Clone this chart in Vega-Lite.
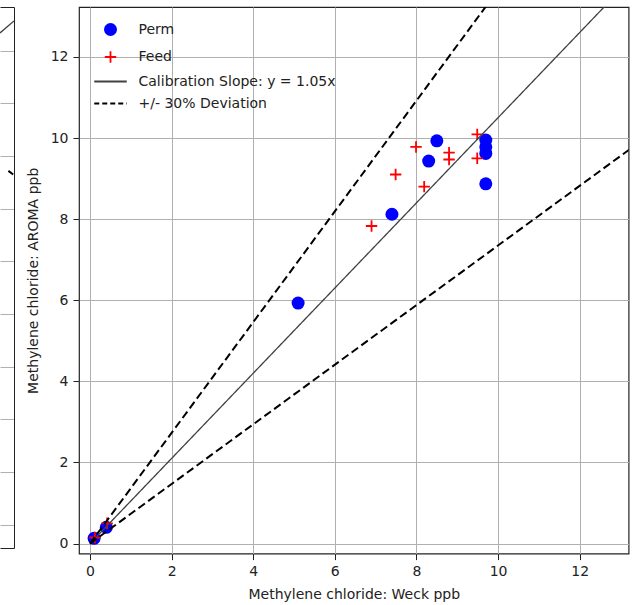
{
  "$schema": "https://vega.github.io/schema/vega-lite/v6.json",
  "autosize": {"type": "pad"},
  "padding": {"left": 0, "top": 6, "right": 0, "bottom": 0},
  "background": "white",
  "spacing": 11,
  "resolve": {"scale": {"color": "independent", "fill": "independent", "stroke": "independent", "shape": "independent", "size": "independent", "strokeDash": "independent"}, "legend": {"fill": "independent", "stroke": "independent", "shape": "independent", "size": "independent", "strokeDash": "independent"}},
  "config": {
    "view": {"stroke": null},
    "font": "DejaVu Sans",
    "axis": {
      "labelFont": "DejaVu Sans",
      "labelFontSize": 14,
      "labelColor": "#222",
      "titleFont": "DejaVu Sans",
      "titleFontSize": 14,
      "titleFontWeight": "normal",
      "titleColor": "#222",
      "gridColor": "#b0b0b0",
      "gridWidth": 1,
      "gridOpacity": 1,
      "tickColor": "#222",
      "tickSize": 6,
      "tickWidth": 1,
      "domainColor": "#222"
    },
    "legend": {
      "title": null,
      "orient": "none",
      "legendX": 24,
      "legendY": 15,
      "padding": 0,
      "labelFont": "DejaVu Sans",
      "labelFontSize": 14,
      "labelColor": "#222",
      "labelLimit": 400,
      "labelOffset": 20.5,
      "rowPadding": 7,
      "symbolStrokeWidth": 1.8,
      "symbolOpacity": 1
    }
  },
  "datasets": {
    "leftSolid": [
      {"x": 0, "y": 9.337},
      {"x": 1, "y": 9.564}
    ],
    "leftDashed": [
      {"x": 0.6, "y": 6.72},
      {"x": 1, "y": 6.64}
    ],
    "points": [
      {"series": "Perm", "weck": 0.1, "aroma": 0.13},
      {"series": "Perm", "weck": 0.4, "aroma": 0.4},
      {"series": "Perm", "weck": 5.1, "aroma": 5.93},
      {"series": "Perm", "weck": 7.4, "aroma": 8.12},
      {"series": "Perm", "weck": 8.3, "aroma": 9.43},
      {"series": "Perm", "weck": 8.5, "aroma": 9.93},
      {"series": "Perm", "weck": 9.7, "aroma": 9.95},
      {"series": "Perm", "weck": 9.7, "aroma": 9.78},
      {"series": "Perm", "weck": 9.7, "aroma": 9.62},
      {"series": "Perm", "weck": 9.7, "aroma": 8.87},
      {"series": "Feed", "weck": 0.12, "aroma": 0.15},
      {"series": "Feed", "weck": 0.42, "aroma": 0.5},
      {"series": "Feed", "weck": 6.9, "aroma": 7.83},
      {"series": "Feed", "weck": 7.49, "aroma": 9.1},
      {"series": "Feed", "weck": 7.99, "aroma": 9.78},
      {"series": "Feed", "weck": 8.19, "aroma": 8.8},
      {"series": "Feed", "weck": 8.8, "aroma": 9.64},
      {"series": "Feed", "weck": 8.8, "aroma": 9.47},
      {"series": "Feed", "weck": 9.49, "aroma": 10.09},
      {"series": "Feed", "weck": 9.49, "aroma": 9.5}
    ],
    "calib": [
      {"series": "Calibration Slope: y = 1.05x", "weck": 0, "aroma": 0},
      {"series": "Calibration Slope: y = 1.05x", "weck": 13.5, "aroma": 14.175}
    ],
    "dev": [
      {"series": "+/- 30% Deviation", "line": "upper", "weck": 0, "aroma": 0},
      {"series": "+/- 30% Deviation", "line": "upper", "weck": 10, "aroma": 13.65},
      {"series": "+/- 30% Deviation", "line": "lower", "weck": 0, "aroma": 0},
      {"series": "+/- 30% Deviation", "line": "lower", "weck": 13.5, "aroma": 9.9225}
    ]
  },
  "hconcat": [
    {
      "width": 14,
      "height": 541,
      "layer": [
        {
          "data": {"name": "leftSolid"},
          "mark": {"type": "line", "clip": true, "color": "#404040", "strokeWidth": 1.3},
          "encoding": {
            "x": {"field": "x", "type": "quantitative",
              "scale": {"domain": [0, 1], "nice": false, "zero": false},
              "axis": {"orient": "bottom", "labels": false, "ticks": false, "grid": false, "title": null, "domain": true}},
            "y": {"field": "y", "type": "quantitative",
              "scale": {"domain": [-0.44, 9.83], "nice": false, "zero": false},
              "axis": {"orient": "right", "labels": false, "ticks": false, "grid": true, "values": [0, 1, 2, 3, 4, 5, 6, 7, 8, 9], "title": null, "domain": true}}
          }
        },
        {
          "data": {"name": "leftDashed"},
          "mark": {"type": "line", "clip": true, "color": "black", "strokeWidth": 2, "strokeDash": [6, 4]},
          "encoding": {
            "x": {"field": "x", "type": "quantitative",
              "axis": {"orient": "top", "labels": false, "ticks": false, "grid": false, "title": null, "domain": true}},
            "y": {"field": "y", "type": "quantitative",
              "axis": {"orient": "right", "labels": false, "ticks": false, "grid": true, "values": [0, 1, 2, 3, 4, 5, 6, 7, 8, 9], "title": null, "domain": true}}
          }
        }
      ]
    },
    {
      "width": 549.6,
      "height": 546.6,
      "view": {"stroke": "#222", "strokeWidth": 1.2},
      "layer": [
        {
          "data": {"name": "points"},
          "mark": {"type": "point", "opacity": 1, "strokeWidth": 1.8},
          "encoding": {
            "x": {"field": "weck", "type": "quantitative",
              "scale": {"domain": [-0.27, 13.2], "nice": false, "zero": false},
              "axis": {"values": [0, 2, 4, 6, 8, 10, 12], "title": "Methylene chloride: Weck ppb", "grid": true, "domain": false, "labelPadding": 5, "titlePadding": 9}},
            "y": {"field": "aroma", "type": "quantitative",
              "scale": {"domain": [-0.247, 13.23], "nice": false, "zero": false},
              "axis": {"values": [0, 2, 4, 6, 8, 10, 12], "title": "Methylene chloride: AROMA ppb", "grid": true, "domain": false, "labelPadding": 5, "titlePadding": 10}},
            "shape": {"field": "series", "type": "nominal",
              "scale": {"domain": ["Perm", "Feed", "Calibration Slope: y = 1.05x", "+/- 30% Deviation"], "range": ["circle", "M-1,0H1M0,-1V1", "M-2.5,0H2.5", "M-2.5,0H2.5"]}},
            "fill": {"field": "series", "type": "nominal",
              "scale": {"domain": ["Perm", "Feed", "Calibration Slope: y = 1.05x", "+/- 30% Deviation"], "range": ["blue", "transparent", "transparent", "transparent"]}},
            "stroke": {"field": "series", "type": "nominal",
              "scale": {"domain": ["Perm", "Feed", "Calibration Slope: y = 1.05x", "+/- 30% Deviation"], "range": ["transparent", "red", "#404040", "black"]}},
            "size": {"field": "series", "type": "nominal",
              "scale": {"type": "ordinal", "domain": ["Perm", "Feed", "Calibration Slope: y = 1.05x", "+/- 30% Deviation"], "range": [169, 130, 169, 169]}}
          }
        },
        {
          "data": {"name": "calib"},
          "mark": {"type": "line", "clip": true, "strokeWidth": 1.3},
          "encoding": {
            "x": {"field": "weck", "type": "quantitative"},
            "y": {"field": "aroma", "type": "quantitative"},
            "stroke": {"field": "series", "type": "nominal"},
            "strokeDash": {"field": "series", "type": "nominal",
              "scale": {"domain": ["Perm", "Feed", "Calibration Slope: y = 1.05x", "+/- 30% Deviation"], "range": [[1, 0], [1, 0], [1, 0], [5, 3]]}}
          }
        },
        {
          "data": {"name": "dev"},
          "mark": {"type": "line", "clip": true, "strokeWidth": 2, "strokeDash": [8, 4]},
          "encoding": {
            "x": {"field": "weck", "type": "quantitative"},
            "y": {"field": "aroma", "type": "quantitative"},
            "stroke": {"field": "series", "type": "nominal"},
            "detail": {"field": "line", "type": "nominal"}
          }
        }
      ]
    }
  ]
}
